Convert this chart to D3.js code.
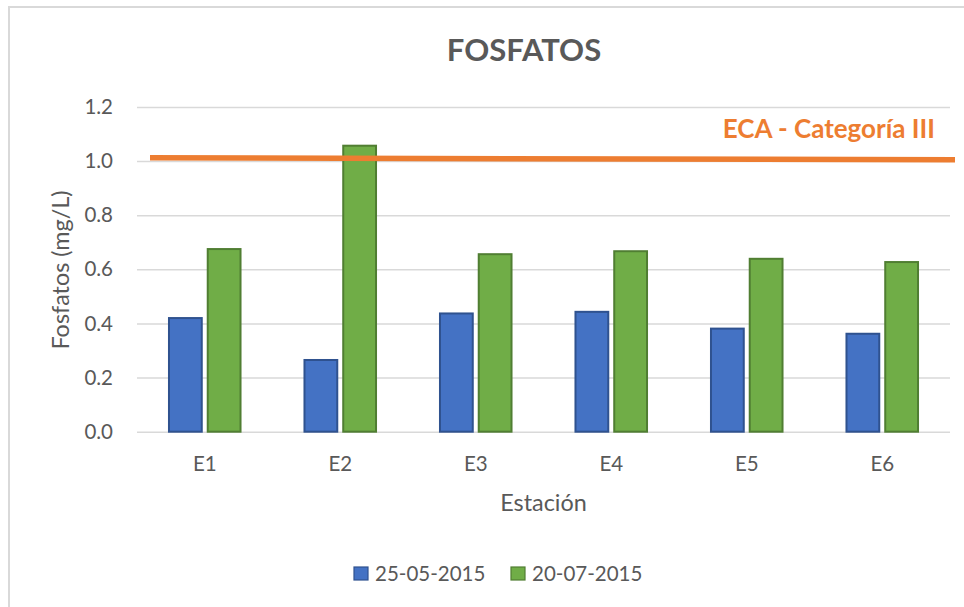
<!DOCTYPE html>
<html>
<head>
<meta charset="utf-8">
<script src="https://cdn.jsdelivr.net/npm/d3@7"></script>
<style>
  html, body { margin: 0; padding: 0; background: #fff; }
  svg { display: block; font-family: Lato, "Open Sans", sans-serif; }
</style>
</head>
<body>
<svg id="chart" width="964" height="607"></svg>
<script>
// Phosphate concentration per sampling station, two sampling dates
const stations = ["E1", "E2", "E3", "E4", "E5", "E6"];
const seriesNames = ["25-05-2015", "20-07-2015"];
const may2015 = [0.42, 0.265, 0.437, 0.443, 0.381, 0.362];
const jul2015 = [0.675, 1.057, 0.656, 0.667, 0.639, 0.627];
const yTicks = [0, 0.2, 0.4, 0.6, 0.8, 1.0, 1.2];
// ECA Category III limit line (start and end values as drawn)
const ecaLimit = [1.012, 1.005];
const ecaLabel = "ECA - Categoría III";

const fills = ["#4472C4", "#70AD47"];
const strokes = ["#2F528F", "#507E32"];
const textColor = "#595959";
const gridColor = "#D9D9D9";

const svg = d3.select("#chart");

// chart-area border
svg.append("rect")
  .attr("x", 9).attr("y", 7)
  .attr("width", 1100).attr("height", 700)
  .attr("fill", "#fff")
  .attr("stroke", gridColor).attr("stroke-width", 2);

const plot = { left: 137, right: 950, top: 107, bottom: 431.7 };

const x = d3.scaleBand().domain(stations).range([plot.left, plot.right]).padding(0);
const y = d3.scaleLinear().domain([0, 1.2]).range([plot.bottom, plot.top]);

// y axis with gridlines
const yAxis = d3.axisLeft(y)
  .tickValues(yTicks)
  .tickFormat(d3.format(".1f"))
  .tickSizeInner(-(plot.right - plot.left))
  .tickSizeOuter(0)
  .tickPadding(24);

const gy = svg.append("g")
  .attr("transform", `translate(${plot.left},0)`)
  .call(yAxis);
gy.select(".domain").remove();
gy.selectAll(".tick line").attr("stroke", gridColor).attr("stroke-width", 1.5);
gy.selectAll(".tick text")
  .attr("fill", textColor)
  .style("font-size", "20.5px")
  .style("font-family", "Lato, sans-serif");

// x axis labels
const xAxis = d3.axisBottom(x).tickSize(0).tickPadding(25);
const gx = svg.append("g")
  .attr("transform", `translate(0,${plot.bottom})`)
  .call(xAxis);
gx.select(".domain").remove();
gx.selectAll(".tick text")
  .attr("fill", textColor)
  .style("font-size", "20.5px")
  .style("font-family", "Lato, sans-serif");

// clustered bars
const bw = x.bandwidth();
const barW = bw * 0.242;
const gap = bw * 0.044;
const clusterW = barW * 2 + gap;
const series = [may2015, jul2015];

series.forEach((vals, si) => {
  svg.append("g").selectAll("rect")
    .data(vals.map((v, i) => ({ station: stations[i], value: v })))
    .join("rect")
    .attr("x", d => x(d.station) + (bw - clusterW) / 2 + si * (barW + gap))
    .attr("y", d => y(d.value))
    .attr("width", barW)
    .attr("height", d => y(0) - y(d.value))
    .attr("fill", fills[si])
    .attr("stroke", strokes[si])
    .attr("stroke-width", 2);
});

// ECA limit line
const ecaX0 = plot.left + 13;
const ecaX1 = plot.right + 5;
svg.append("line")
  .attr("x1", ecaX0).attr("x2", ecaX1)
  .attr("y1", y(ecaLimit[0])).attr("y2", y(ecaLimit[1]))
  .attr("stroke", "#ED7D31")
  .attr("stroke-width", 5.5);

svg.append("text")
  .attr("x", 935).attr("y", 137.7)
  .attr("text-anchor", "end")
  .attr("fill", "#ED7D31")
  .style("font-size", "26px")
  .style("font-weight", "bold")
  .text(ecaLabel);

// title
svg.append("text")
  .attr("x", 524).attr("y", 60.7)
  .attr("text-anchor", "middle")
  .attr("fill", textColor)
  .style("font-size", "31px")
  .style("font-weight", "bold")
  .text("FOSFATOS");

// axis titles
svg.append("text")
  .attr("transform", "translate(69,270) rotate(-90)")
  .attr("text-anchor", "middle")
  .attr("fill", textColor)
  .style("font-size", "23.4px")
  .text("Fosfatos (mg/L)");

svg.append("text")
  .attr("x", (plot.left + plot.right) / 2).attr("y", 510.7)
  .attr("text-anchor", "middle")
  .attr("fill", textColor)
  .style("font-size", "23.4px")
  .text("Estación");

// legend
const legendX = [354, 511];
const lg = svg.append("g");
seriesNames.forEach((name, i) => {
  lg.append("rect")
    .attr("x", legendX[i]).attr("y", 567)
    .attr("width", 14).attr("height", 13)
    .attr("fill", fills[i])
    .attr("stroke", strokes[i])
    .attr("stroke-width", 1.2);
  lg.append("text")
    .attr("x", legendX[i] + 21).attr("y", 580.5)
    .attr("fill", textColor)
    .style("font-size", "20.5px")
    .text(name);
});
</script>
</body>
</html>
